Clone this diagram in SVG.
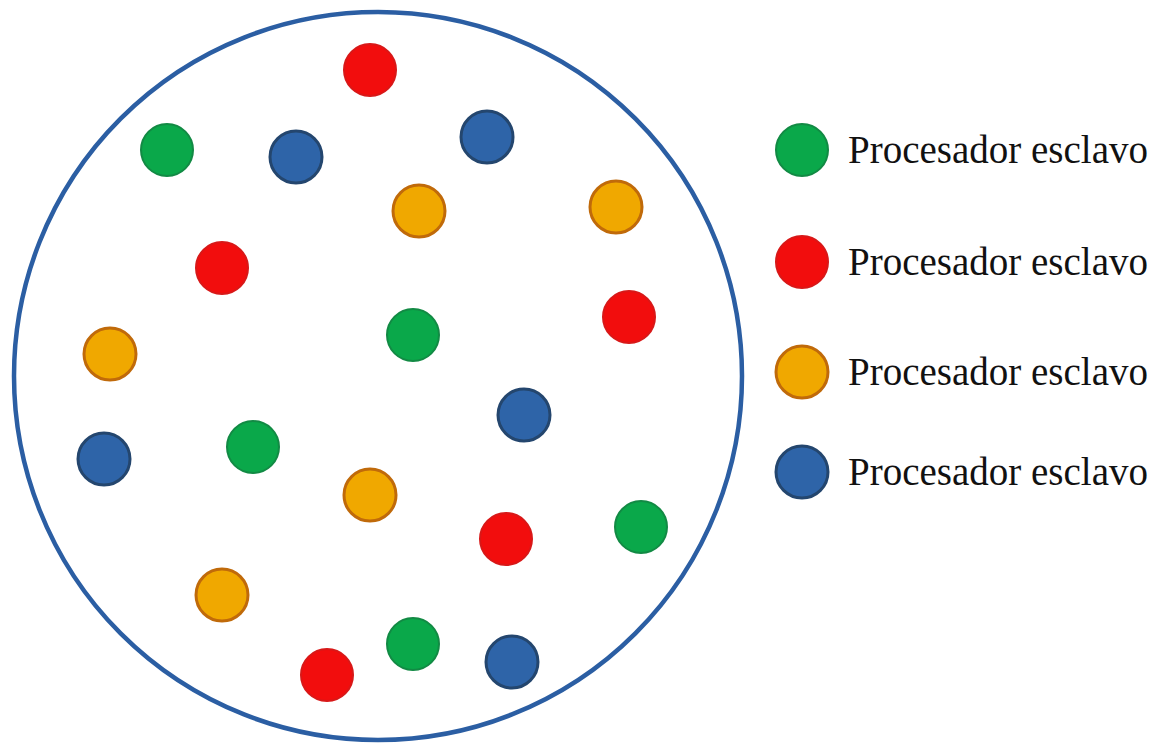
<svg xmlns="http://www.w3.org/2000/svg" width="1159" height="744" viewBox="0 0 1159 744">
<style>
.g{fill:#0AA84A;stroke:#128A44;stroke-width:2}
.r{fill:#F20D0D;stroke:#D81818;stroke-width:2}
.o{fill:#F0A800;stroke:#C06A0A;stroke-width:3}
.b{fill:#2E64A8;stroke:#24466E;stroke-width:3}
.t{font-family:"Liberation Serif","Times New Roman",serif;font-size:39px;fill:#111}
</style>
<rect width="1159" height="744" fill="#ffffff"/>
<g id="boundary"><circle cx="378" cy="376" r="364" fill="none" stroke="#2B5EA3" stroke-width="4.5"/></g>
<g id="nodes">
<circle class="r" cx="370" cy="70" r="26"/>
<circle class="g" cx="167" cy="150" r="26"/>
<circle class="b" cx="296" cy="157" r="26"/>
<circle class="b" cx="487" cy="137" r="26"/>
<circle class="o" cx="419" cy="211" r="26"/>
<circle class="o" cx="616" cy="207" r="26"/>
<circle class="r" cx="222" cy="268" r="26"/>
<circle class="r" cx="629" cy="317" r="26"/>
<circle class="g" cx="413" cy="335" r="26"/>
<circle class="o" cx="110" cy="354" r="26"/>
<circle class="b" cx="524" cy="415" r="26"/>
<circle class="b" cx="104" cy="459" r="26"/>
<circle class="g" cx="253" cy="447" r="26"/>
<circle class="o" cx="370" cy="495" r="26"/>
<circle class="r" cx="506" cy="539" r="26"/>
<circle class="g" cx="641" cy="527" r="26"/>
<circle class="o" cx="222" cy="595" r="26"/>
<circle class="g" cx="413" cy="644" r="26"/>
<circle class="b" cx="512" cy="662" r="26"/>
<circle class="r" cx="327" cy="675" r="26"/>
</g>
<g id="legend-green"><circle class="g" cx="802" cy="150" r="26"/><text class="t" x="848" y="163">Procesador esclavo</text></g>
<g id="legend-red"><circle class="r" cx="802" cy="262" r="26"/><text class="t" x="848" y="275">Procesador esclavo</text></g>
<g id="legend-orange"><circle class="o" cx="802" cy="372" r="26"/><text class="t" x="848" y="385">Procesador esclavo</text></g>
<g id="legend-blue"><circle class="b" cx="802" cy="472" r="26"/><text class="t" x="848" y="485">Procesador esclavo</text></g>
<g id="connectors"/>
</svg>
